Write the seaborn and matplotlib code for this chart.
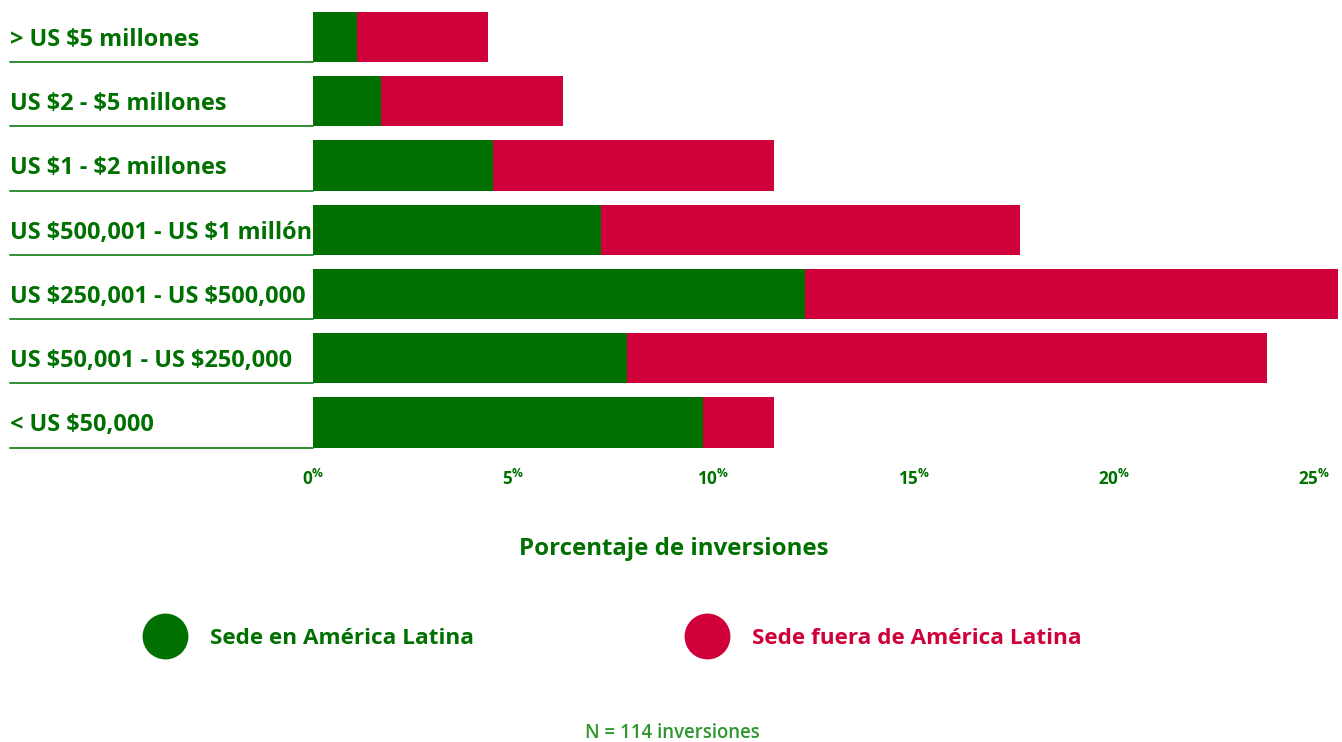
import pandas as pd
import matplotlib.pyplot as plt
import matplotlib.transforms as mtransforms
from matplotlib.lines import Line2D
import seaborn as sns

# ====================
# DATOS
# ====================
rangos = [
    "> US $5 millones",
    "US $2 - $5 millones",
    "US $1 - $2 millones",
    "US $500,001 - US $1 millón",
    "US $250,001 - US $500,000",
    "US $50,001 - US $250,000",
    "< US $50,000",
]
sede_latam = [1.10, 1.70, 4.49, 7.19, 12.28, 7.84, 9.74]
sede_fuera = [3.27, 4.54, 7.02, 10.46, 13.31, 15.97, 1.77]
ticks = [0, 5, 10, 15, 20, 25]

df = pd.DataFrame({"Rango": rangos, "Latam": sede_latam, "Fuera": sede_fuera})
df["Total"] = df["Latam"] + df["Fuera"]

# ====================
# ESTILO
# ====================
verde = "#007000"
rojo = "#D0003A"
verde_claro = "#2E962E"

sns.set_style("white")
plt.rcParams["font.family"] = ["Open Sans", "DejaVu Sans"]
plt.rcParams["mathtext.fontset"] = "custom"
plt.rcParams["mathtext.rm"] = "Open Sans"
plt.rcParams["mathtext.bf"] = "Open Sans:bold"

fig = plt.figure(figsize=(13.42, 7.42), dpi=100)
ax = fig.add_axes([313 / 1342, 1 - 454.6 / 742, 1029 / 1342, 449.75 / 742])

# ====================
# BARRAS APILADAS
# ====================
sns.barplot(data=df, x="Total", y="Rango", color=rojo, width=0.78,
            saturation=1, linewidth=0, ax=ax, orient="h")
sns.barplot(data=df, x="Latam", y="Rango", color=verde, width=0.78,
            saturation=1, linewidth=0, ax=ax, orient="h")

ax.set_xlim(0, 1029 / 40.06)
ax.set_ylim(6.5, -0.5)
for s in ax.spines.values():
    s.set_visible(False)
ax.set_xlabel("")
ax.set_ylabel("")
ax.set_yticks([])
ax.set_xticks(ticks)
ax.set_xticklabels([r"$\mathbf{%d}^{\mathbf{\%%}}$" % t for t in ticks],
                   color=verde, fontsize=12.3)
ax.tick_params(axis="x", length=0, pad=10)

# etiquetas de categoría con línea inferior
trans = mtransforms.blended_transform_factory(fig.transFigure, ax.transData)
for i, r in enumerate(rangos):
    ax.text(10 / 1342, i + 0.14, r, transform=trans, ha="left", va="baseline",
            fontsize=16.9, fontweight="bold", color=verde, clip_on=False,
            parse_math=False)
    ax.add_line(Line2D([10 / 1342, 313 / 1342], [i + 0.39, i + 0.39],
                       transform=trans, color="#2F8F2F", lw=1.4, clip_on=False))

# ====================
# TEXTOS Y LEYENDA
# ====================
fig.text(674 / 1342, 1 - 549 / 742, "Porcentaje de inversiones", ha="center",
         va="center", fontsize=17.3, fontweight="bold", color=verde)

for cx, tx, lbl, col in [(165, 210, "Sede en América Latina", verde),
                         (707, 752, "Sede fuera de América Latina", rojo)]:
    fig.add_artist(Line2D([cx / 1342], [1 - 636 / 742], marker="o",
                          markersize=32, color=col, transform=fig.transFigure))
    fig.text(tx / 1342, 1 - 639 / 742, lbl, ha="left", va="center",
             fontsize=16.2, fontweight="bold", color=col)

fig.text(672 / 1342, 1 - 733 / 742, "N = 114 inversiones", ha="center",
         va="center", fontsize=13.4, fontweight="semibold", color=verde_claro)

plt.savefig("out.png", dpi=100, facecolor="white")
